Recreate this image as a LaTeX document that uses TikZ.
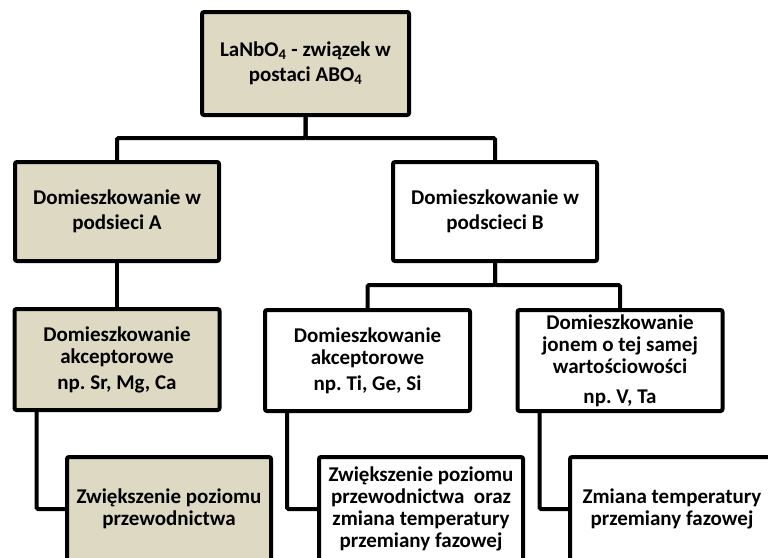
\documentclass[tikz,border=0pt]{standalone}
\usepackage{fontspec}
\setmainfont{Carlito}
\usetikzlibrary{calc}
\definecolor{tanfill}{RGB}{221,217,195}
\frenchspacing
\begin{document}
\begin{tikzpicture}[x=1pt,y=-1pt,
  box/.style={draw=black, line width=4pt, rounded corners=2pt, inner sep=0pt,
    outer sep=0pt, align=center, text=black,
    font=\fontsize{21}{25}\selectfont\bfseries},
  tight/.style={font=\fontsize{21}{22}\selectfont\bfseries},
  mid/.style={box, minimum width=205pt, minimum height=101pt},
  low/.style={box, tight, minimum width=204pt, minimum height=104pt},
  tan/.style={fill=tanfill},
  plain/.style={fill=white},
  link/.style={line width=4pt, rounded corners=1.5pt}]
\useasboundingbox (0,0) rectangle (768,557);
\begin{scope}
\clip (0,0) rectangle (768,557);

% root
\node[box, tan, minimum width=207pt, minimum height=103pt] (root) at (305.5,63.5)
  {LaNbO\textsubscript{4} - związek w\\postaci ABO\textsubscript{4}};

% first level
\node[box, tan, minimum width=204pt, minimum height=99pt] (subA) at (117,211.5)
  {Domieszkowanie w\\podsieci A};
\node[box, plain, minimum width=204pt, minimum height=99pt] (subB) at (495,211.5)
  {Domieszkowanie w\\podscieci B};

% second level
\node[mid, tight, tan] (accA) at (117,359.5)
  {Domieszkowanie\\akceptorowe\\[4pt]np. Sr, Mg, Ca};
\node[mid, tight, plain] (accB) at (367.5,360.5)
  {Domieszkowanie\\akceptorowe\\[4pt]np. Ti, Ge, Si};
\node[mid, tight, plain] (isoB) at (620,360.5)
  {Domieszkowanie\\jonem o tej samej\\wartościowości\\[8pt]np. V, Ta};

% effects
\node[low, tan] (effA) at (169,509)
  {Zwiększenie poziomu\\przewodnictwa};
\node[low, plain] (effB) at (421,509)
  {Zwiększenie poziomu\\przewodnictwa\ \ oraz\\zmiana temperatury\\przemiany fazowej};
\node[low, plain] (effI) at (672,509)
  {Zmiana temperatury\\przemiany fazowej};

% connectors
\draw[link] (root.south) -- ++(0,23) -| (subA.north);
\draw[link] (root.south) -- ++(0,23) -| (subB.north);
\draw[link] (subA.south) -- (accA.north);
\draw[link] (subB.south) -- ++(0,24) -| (accB.north);
\draw[link] (subB.south) -- ++(0,24) -| (isoB.north);
\draw[link] ($(accA.south west)+(22,0)$) |- (effA.west);
\draw[link] ($(accB.south west)+(22,0)$) |- (effB.west);
\draw[link] ($(isoB.south west)+(22,0)$) |- (effI.west);
\end{scope}
\end{tikzpicture}
\end{document}
